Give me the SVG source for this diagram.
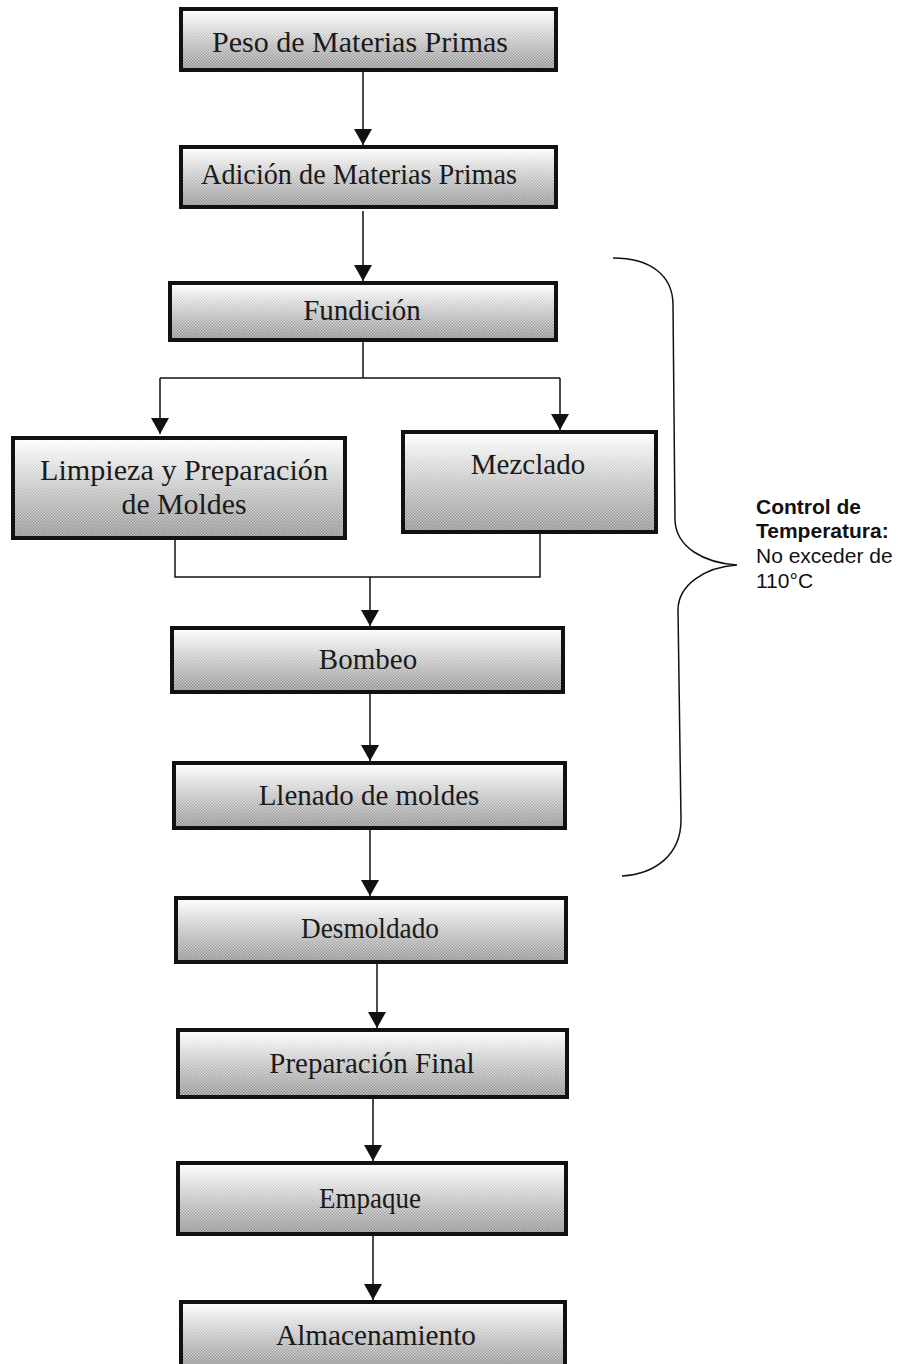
<svg xmlns="http://www.w3.org/2000/svg" width="905" height="1364" viewBox="0 0 905 1364">
<defs>
<linearGradient id="g" x1="0" y1="0" x2="0" y2="1">
<stop offset="0" stop-color="#ffffff"/>
<stop offset="0.3" stop-color="#ececec"/>
<stop offset="1" stop-color="#bdbdbd"/>
</linearGradient>
<linearGradient id="mg" x1="0" y1="0" x2="0" y2="1">
<stop offset="0" stop-color="#000"/>
<stop offset="0.25" stop-color="#333"/>
<stop offset="1" stop-color="#bbb"/>
</linearGradient>
<mask id="m" maskContentUnits="objectBoundingBox">
<rect width="1" height="1" fill="url(#mg)"/>
</mask>
<pattern id="dots" width="3" height="3" patternUnits="userSpaceOnUse">
<rect x="0" y="0" width="1.5" height="1.5" fill="#444"/>
<rect x="1.5" y="1.5" width="1.5" height="1.5" fill="#444"/>
</pattern>
<marker id="arr" viewBox="0 0 16 18" refX="16" refY="9" markerWidth="16" markerHeight="18" markerUnits="userSpaceOnUse" orient="auto">
<path d="M0,0 L16,9 L0,18 Z" fill="#111"/>
</marker>
</defs>
<style>
.box{fill:url(#g);stroke:#111;stroke-width:4}
.ht{fill:url(#dots);mask:url(#m);opacity:0.55}
.t{font-family:"Liberation Serif","Times New Roman",serif;font-size:29px;fill:#1a1a1a;text-anchor:middle}
.c{fill:none;stroke:#111;stroke-width:1.5}
.a{fill:none;stroke:#111;stroke-width:1.5;marker-end:url(#arr)}
.s{font-family:"Liberation Sans",Arial,sans-serif;font-size:21px;fill:#111}
</style>
<rect width="905" height="1364" fill="#fff"/>
<g id="connectors">
<line class="a" x1="363" y1="72" x2="363" y2="145"/>
<line class="a" x1="363" y1="211" x2="363" y2="281"/>
<line class="c" x1="363" y1="341" x2="363" y2="378"/>
<line class="c" x1="160" y1="378" x2="560" y2="378"/>
<line class="a" x1="160" y1="378" x2="160" y2="434"/>
<line class="a" x1="560" y1="378" x2="560" y2="430"/>
<polyline class="c" points="175,540 175,577 540,577 540,534"/>
<line class="a" x1="370" y1="577" x2="370" y2="626"/>
<line class="a" x1="370" y1="694" x2="370" y2="761"/>
<line class="a" x1="370" y1="830" x2="370" y2="896"/>
<line class="a" x1="377" y1="964" x2="377" y2="1028"/>
<line class="a" x1="373" y1="1099" x2="373" y2="1161"/>
<line class="a" x1="373" y1="1236" x2="373" y2="1300"/>
</g>
<g id="n1"><rect class="box" x="181" y="9" width="375" height="61"/><rect class="ht" x="183" y="11" width="371" height="57"/><text class="t" x="360" y="52" textLength="296" lengthAdjust="spacingAndGlyphs">Peso de Materias Primas</text></g>
<g id="n2"><rect class="box" x="181" y="147" width="375" height="60"/><rect class="ht" x="183" y="149" width="371" height="56"/><text class="t" x="359" y="184" textLength="316" lengthAdjust="spacingAndGlyphs">Adición de Materias Primas</text></g>
<g id="n3"><rect class="box" x="170" y="283" width="386" height="57"/><rect class="ht" x="172" y="285" width="382" height="53"/><text class="t" x="362" y="320">Fundición</text></g>
<g id="n4"><rect class="box" x="13" y="438" width="332" height="100"/><rect class="ht" x="15" y="440" width="328" height="96"/><text class="t" x="184" y="480" textLength="288" lengthAdjust="spacingAndGlyphs">Limpieza y Preparación</text><text class="t" x="184" y="514" textLength="125" lengthAdjust="spacingAndGlyphs">de Moldes</text></g>
<g id="n5"><rect class="box" x="403" y="432" width="253" height="100"/><rect class="ht" x="405" y="434" width="249" height="96"/><text class="t" x="528" y="474">Mezclado</text></g>
<g id="n6"><rect class="box" x="172" y="628" width="391" height="64"/><rect class="ht" x="174" y="630" width="387" height="60"/><text class="t" x="368" y="669">Bombeo</text></g>
<g id="n7"><rect class="box" x="174" y="763" width="391" height="65"/><rect class="ht" x="176" y="765" width="387" height="61"/><text class="t" x="369" y="805">Llenado de moldes</text></g>
<g id="n8"><rect class="box" x="176" y="898" width="390" height="64"/><rect class="ht" x="178" y="900" width="386" height="60"/><text class="t" x="370" y="938" textLength="138" lengthAdjust="spacingAndGlyphs">Desmoldado</text></g>
<g id="n9"><rect class="box" x="178" y="1030" width="389" height="67"/><rect class="ht" x="180" y="1032" width="385" height="63"/><text class="t" x="372" y="1073">Preparación Final</text></g>
<g id="n10"><rect class="box" x="178" y="1163" width="388" height="71"/><rect class="ht" x="180" y="1165" width="384" height="67"/><text class="t" x="370" y="1208" textLength="102" lengthAdjust="spacingAndGlyphs">Empaque</text></g>
<g id="n11"><rect class="box" x="181" y="1302" width="384" height="66"/><rect class="ht" x="183" y="1304" width="380" height="62"/><text class="t" x="376" y="1345" textLength="200" lengthAdjust="spacingAndGlyphs">Almacenamiento</text></g>
<g id="brace">
<path class="c" d="M613,258 C650,258 673,275 673,305 L675,520 C676,548 705,563 737,565 C705,567 678,585 678,610 L681,820 C681,855 655,874 622,876"/>
<text class="s" x="756" y="514" font-weight="bold">Control de</text>
<text class="s" x="756" y="538" font-weight="bold">Temperatura:</text>
<text class="s" x="756" y="563">No exceder de</text>
<text class="s" x="756" y="588">110°C</text>
</g>
</svg>
